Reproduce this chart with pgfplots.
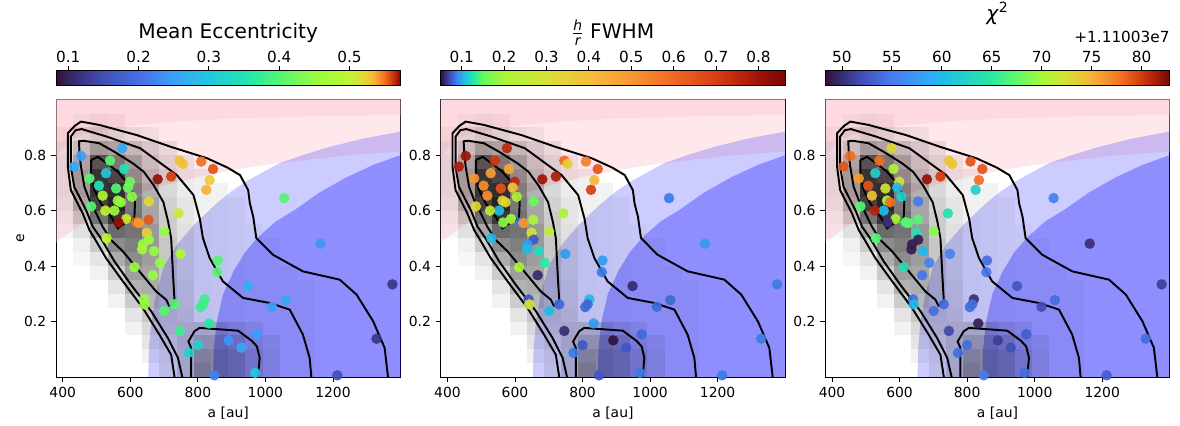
\documentclass[border=0pt]{standalone}
\usepackage{fontspec}
\setmainfont{DejaVu Sans}
\usepackage{pgfplots}
\pgfplotsset{compat=1.18}
\usepackage{pgfplotstable}

\definecolor{pinkc}{RGB}{255,192,203}

\pgfplotsset{
 colormap={ecc}{rgb255(0)=(48,18,59) rgb255(36)=(54,36,100) rgb255(137)=(65,80,180) rgb255(239)=(70,110,230) rgb255(341)=(58,160,250) rgb255(443)=(34,200,222) rgb255(545)=(30,228,180) rgb255(647)=(85,245,115) rgb255(749)=(150,252,65) rgb255(851)=(190,245,50) rgb255(892)=(228,218,55) rgb255(922)=(250,180,55) rgb255(953)=(245,112,30) rgb255(984)=(190,40,8) rgb255(1000)=(122,4,3)},
 colormap={fwhm}{rgb255(0)=(48,18,59) rgb255(24)=(65,70,180) rgb255(48)=(55,140,245) rgb255(73)=(30,200,220) rgb255(98)=(40,235,160) rgb255(122)=(100,250,90) rgb255(184)=(170,245,55) rgb255(307)=(215,225,55) rgb255(430)=(245,190,60) rgb255(553)=(250,150,50) rgb255(676)=(240,105,35) rgb255(800)=(215,60,20) rgb255(923)=(160,20,8) rgb255(1000)=(122,4,3)},
 colormap={chi}{rgb255(0)=(48,18,59) rgb255(100)=(66,75,180) rgb255(190)=(72,122,240) rgb255(300)=(50,170,250) rgb255(340)=(32,188,232) rgb255(480)=(40,232,165) rgb255(550)=(90,250,110) rgb255(630)=(170,248,55) rgb255(700)=(215,225,50) rgb255(770)=(245,180,55) rgb255(850)=(245,120,35) rgb255(920)=(210,55,15) rgb255(1000)=(122,4,3)},
}

% histogram cell: black rectangle whose opacity is the cell density
\pgfdeclareplotmark{cell}{%
  \pgfsetfillcolor{black}%
  \pgfsetfillopacity{\cellop}%
  \pgfpathrectangle{\pgfqpoint{-6.201pt}{-4.992pt}}{\pgfqpoint{12.402pt}{9.983pt}}%
  \pgfusepathqfill}
% scatter dot without outline
\pgfdeclareplotmark{dot}{%
  \pgfsetfillopacity{0.92}%
  \pgfpathcircle{\pgfpointorigin}{3.8pt}%
  \pgfusepathqfill}

% scatter points: a [au], e, mean eccentricity, h/r FWHM, chi^2 - 1.11003e7
\pgfplotstableread{
a e v1 v2 v3
454 0.797 0.25 0.80 78
434 0.759 0.26 0.78 79
576 0.825 0.26 0.75 73
540 0.780 0.40 0.72 78
582 0.750 0.35 0.45 70
528 0.735 0.30 0.48 62
479 0.716 0.40 0.50 76
507 0.690 0.35 0.52 79
599 0.704 0.42 0.75 72
558 0.680 0.40 0.65 72
518 0.654 0.48 0.52 74
593 0.683 0.42 0.38 60
605 0.650 0.44 0.22 62
563 0.636 0.45 0.33 70
572 0.630 0.45 0.33 78
553 0.600 0.46 0.105 60
526 0.600 0.50 0.25 81
484 0.615 0.40 0.32 67
588 0.570 0.51 0.20 70
565 0.557 0.57 0.18 50
617 0.558 0.55 0.085 67
625 0.555 0.54 0.50 67
654 0.567 0.555 0.20 67
655 0.633 0.52 0.15 55
649 0.520 0.525 0.30 64
655 0.495 0.46 0.075 49
681 0.713 0.57 0.80 82
721 0.723 0.56 0.78 80
746 0.780 0.53 0.60 74
756 0.768 0.53 0.35 74
810 0.777 0.55 0.55 79
845 0.750 0.555 0.65 79
835 0.710 0.525 0.42 78
825 0.675 0.535 0.70 62
743 0.590 0.51 0.20 64
701 0.525 0.45 0.25 69
530 0.500 0.50 0.105 67
637 0.478 0.45 0.095 49
635 0.460 0.47 0.105 49
670 0.454 0.45 0.12 60
749 0.444 0.48 0.095 55.5
688 0.412 0.45 0.13 55.5
612 0.396 0.45 0.20 64
667 0.367 0.45 0.06 54.5
859 0.420 0.40 0.095 54
857 0.378 0.40 0.085 54.5
948 0.328 0.27 0.06 52.5
1163 0.481 0.24 0.095 50
1376 0.334 0.12 0.085 51
640 0.280 0.45 0.075 54
642 0.262 0.45 0.30 60
701 0.238 0.40 0.105 54
731 0.262 0.40 0.08 54
820 0.280 0.38 0.105 50
815 0.262 0.38 0.08 54
808 0.252 0.38 0.08 54
1020 0.253 0.25 0.08 52
1060 0.277 0.26 0.08 54
833 0.193 0.36 0.095 49
746 0.166 0.38 0.06 51.5
975 0.154 0.25 0.08 53
891 0.132 0.24 0.05 51
929 0.106 0.26 0.075 52
800 0.115 0.32 0.075 54
773 0.087 0.32 0.085 54
1329 0.138 0.12 0.085 54
849 0.006 0.22 0.075 55
970 0.015 0.30 0.085 54
1213 0.006 0.15 0.085 53
1056 0.645 0.40 0.085 55.5
}\pts

% 2D histogram: bin centres and relative density (used as opacity)
\pgfplotstableread{
a e d
405.5 0.525 0.03
405.5 0.575 0.05
405.5 0.625 0.08
405.5 0.675 0.10
405.5 0.725 0.10
405.5 0.775 0.10
405.5 0.825 0.08
405.5 0.875 0.04
456.5 0.425 0.03
456.5 0.475 0.06
456.5 0.525 0.12
456.5 0.575 0.20
456.5 0.625 0.30
456.5 0.675 0.35
456.5 0.725 0.35
456.5 0.775 0.30
456.5 0.825 0.20
456.5 0.875 0.10
456.5 0.925 0.03
507.5 0.375 0.05
507.5 0.425 0.10
507.5 0.475 0.20
507.5 0.525 0.35
507.5 0.575 0.55
507.5 0.625 0.72
507.5 0.675 0.78
507.5 0.725 0.78
507.5 0.775 0.65
507.5 0.825 0.35
507.5 0.875 0.15
507.5 0.925 0.05
558.5 0.275 0.05
558.5 0.325 0.10
558.5 0.375 0.20
558.5 0.425 0.32
558.5 0.475 0.45
558.5 0.525 0.58
558.5 0.575 0.78
558.5 0.625 0.85
558.5 0.675 0.80
558.5 0.725 0.70
558.5 0.775 0.50
558.5 0.825 0.30
558.5 0.875 0.12
558.5 0.925 0.04
609.5 0.175 0.05
609.5 0.225 0.10
609.5 0.275 0.20
609.5 0.325 0.30
609.5 0.375 0.38
609.5 0.425 0.45
609.5 0.475 0.50
609.5 0.525 0.55
609.5 0.575 0.55
609.5 0.625 0.52
609.5 0.675 0.48
609.5 0.725 0.42
609.5 0.775 0.35
609.5 0.825 0.22
609.5 0.875 0.08
660.5 0.075 0.05
660.5 0.125 0.10
660.5 0.175 0.15
660.5 0.225 0.22
660.5 0.275 0.28
660.5 0.325 0.32
660.5 0.375 0.35
660.5 0.425 0.38
660.5 0.475 0.40
660.5 0.525 0.40
660.5 0.575 0.35
660.5 0.625 0.35
660.5 0.675 0.30
660.5 0.725 0.25
660.5 0.775 0.20
660.5 0.825 0.15
660.5 0.875 0.05
711.5 0.025 0.08
711.5 0.075 0.10
711.5 0.125 0.15
711.5 0.175 0.18
711.5 0.225 0.20
711.5 0.275 0.22
711.5 0.325 0.22
711.5 0.375 0.22
711.5 0.425 0.22
711.5 0.475 0.22
711.5 0.525 0.20
711.5 0.575 0.20
711.5 0.625 0.18
711.5 0.675 0.15
711.5 0.725 0.15
711.5 0.775 0.12
711.5 0.825 0.08
762.5 0.025 0.20
762.5 0.075 0.20
762.5 0.125 0.22
762.5 0.175 0.20
762.5 0.225 0.16
762.5 0.275 0.15
762.5 0.325 0.14
762.5 0.375 0.12
762.5 0.425 0.12
762.5 0.475 0.12
762.5 0.525 0.12
762.5 0.575 0.10
762.5 0.625 0.10
762.5 0.675 0.08
762.5 0.725 0.08
762.5 0.775 0.06
813.5 0.025 0.42
813.5 0.075 0.38
813.5 0.125 0.30
813.5 0.175 0.20
813.5 0.225 0.06
813.5 0.275 0.06
813.5 0.325 0.06
813.5 0.375 0.06
813.5 0.425 0.06
813.5 0.475 0.06
813.5 0.525 0.06
813.5 0.575 0.06
813.5 0.625 0.06
813.5 0.675 0.06
813.5 0.725 0.06
864.5 0.025 0.35
864.5 0.075 0.35
864.5 0.125 0.30
864.5 0.175 0.20
864.5 0.225 0.05
864.5 0.275 0.05
864.5 0.325 0.05
864.5 0.375 0.05
864.5 0.425 0.05
864.5 0.475 0.05
864.5 0.525 0.05
864.5 0.575 0.05
864.5 0.625 0.05
864.5 0.675 0.05
915.5 0.025 0.30
915.5 0.075 0.30
915.5 0.125 0.25
915.5 0.175 0.15
915.5 0.225 0.04
915.5 0.275 0.04
915.5 0.325 0.04
915.5 0.375 0.04
915.5 0.425 0.04
915.5 0.475 0.04
915.5 0.525 0.04
915.5 0.575 0.04
915.5 0.625 0.04
966.5 0.025 0.20
966.5 0.075 0.20
966.5 0.125 0.15
966.5 0.175 0.10
966.5 0.225 0.03
966.5 0.275 0.03
966.5 0.325 0.03
966.5 0.375 0.03
966.5 0.425 0.03
966.5 0.475 0.03
966.5 0.525 0.03
1017.5 0.025 0.12
1017.5 0.075 0.12
1017.5 0.125 0.10
1017.5 0.175 0.03
1017.5 0.225 0.03
1017.5 0.275 0.03
1017.5 0.325 0.03
1017.5 0.375 0.03
1017.5 0.425 0.03
1017.5 0.475 0.03
1068.5 0.025 0.03
1068.5 0.075 0.03
1068.5 0.125 0.03
1068.5 0.175 0.03
1068.5 0.225 0.03
1068.5 0.275 0.03
1068.5 0.325 0.03
1068.5 0.375 0.03
1119.5 0.025 0.03
1119.5 0.075 0.03
1119.5 0.125 0.03
1119.5 0.175 0.03
1119.5 0.225 0.03
1119.5 0.275 0.03
1119.5 0.325 0.03
}\hist

\newcommand{\commonlayers}{%
 % shaded regions
 \addplot[draw=none, fill=pinkc, fill opacity=0.365] coordinates {(370,0.475) (380,0.485) (430,0.53) (500,0.59) (600,0.65) (700,0.69) (800,0.72) (900,0.745) (1000,0.765) (1100,0.78) (1250,0.80) (1400,0.813) (1410,0.815) (1410,1.05) (370,1.05)};
 \addplot[draw=none, fill=pinkc, fill opacity=0.365] coordinates {(370,0.77) (380,0.79) (400,0.825) (431,0.86) (480,0.88) (550,0.897) (629,0.909) (750,0.922) (926,0.933) (1150,0.94) (1400,0.945) (1410,0.945) (1410,1.05) (370,1.05)};
 \addplot[draw=none, fill=blue, fill opacity=0.2] coordinates {(653,-0.05) (653,0) (654,0.05) (655,0.1) (662,0.2) (676,0.3) (700,0.4) (740,0.48) (790,0.55) (850,0.62) (900,0.67) (950,0.71) (1040,0.77) (1110,0.80) (1190,0.83) (1290,0.86) (1400,0.885) (1410,0.888) (1410,-0.05)};
 \addplot[draw=none, fill=blue, fill opacity=0.3] coordinates {(845,-0.05) (845,0) (846,0.05) (847,0.1) (856,0.2) (875,0.3) (905,0.38) (940,0.45) (975,0.5) (1030,0.56) (1090,0.605) (1160,0.665) (1240,0.72) (1320,0.765) (1400,0.80) (1410,0.805) (1410,-0.05)};
 % histogram
 \addplot[scatter, only marks, mark=cell, point meta=\thisrow{d},
   scatter/use mapped color={fill=black},
   visualization depends on={\thisrow{d} \as \cellop}]
   table[x=a, y=e] {\hist};
}

\newcommand{\contourlayers}{%
 \addplot[black, line width=1.4pt, mark=none] coordinates {(484,0.782) (504,0.794) (528,0.773) (563,0.740) (597,0.692) (614,0.632) (612,0.572) (583,0.554) (563,0.536) (543,0.578) (513,0.626) (494,0.674) (484,0.722) (484,0.782)};
 \addplot[black, line width=1.4pt, mark=none] coordinates {(716,0.255) (731,0.273) (726,0.38) (721,0.50) (712,0.56) (698,0.63) (670,0.69) (640,0.74) (607,0.771) (553,0.812) (508,0.843) (461,0.852) (448,0.85) (450,0.80) (454,0.758) (464,0.686) (479,0.638) (499,0.59) (518,0.542) (543,0.494) (578,0.453) (627,0.381) (676,0.309) (706,0.279) (716,0.255)};
 \addplot[black, line width=1.4pt, mark=none] coordinates {(754,0) (741,0.069) (711,0.141) (662,0.237) (602,0.333) (553,0.417) (513,0.50) (489,0.542) (469,0.602) (449,0.65) (434,0.686) (424,0.758) (424,0.867) (438,0.89) (456,0.894) (530,0.867) (629,0.825) (738,0.728) (787,0.656) (806,0.57) (815,0.501) (835,0.429) (874,0.345) (934,0.285) (1012,0.267) (1072,0.243) (1111,0.153) (1131,0.069) (1136,0)};
 \addplot[black, line width=1.4pt, mark=none] coordinates {(731,0) (721,0.08) (686,0.153) (637,0.249) (578,0.345) (528,0.429) (494,0.50) (479,0.53) (459,0.59) (439,0.638) (424,0.674) (415,0.758) (415,0.879) (435,0.905) (454,0.921) (508,0.909) (620,0.872) (720,0.83) (827,0.789) (888,0.755) (925,0.728) (949,0.674) (954,0.626) (964,0.578) (973,0.501) (1022,0.441) (1111,0.381) (1220,0.351) (1270,0.297) (1319,0.201) (1353,0.105) (1363,0)};
 \addplot[black, line width=1.4pt, mark=none] coordinates {(780,0) (780,0.105) (772,0.128) (790,0.165) (805,0.177) (919,0.167) (960,0.13) (975,0.11) (983,0.069) (978,0)};
}

\pgfplotsset{
 panel/.style={
  scale only axis, width=248.04pt, height=199.66pt, anchor=south west,
  xmin=380, xmax=1400, ymin=0, ymax=1,
  xtick={400,600,800,1000,1200}, ytick={0.2,0.4,0.6,0.8},
  xtick pos=left, ytick pos=left,
  tick align=outside, major tick length=3.5pt,
  tick style={black, line width=0.6pt},
  axis line style={line width=0.6pt},
  tick label style={font=\fontsize{10}{12}\selectfont},
  label style={font=\fontsize{10}{12}\selectfont},
  /pgf/number format/assume math mode=true,
  /pgf/number format/1000 sep={},
  yticklabel style={/pgf/number format/fixed, /pgf/number format/precision=1},
  xlabel={a [au]},
  colorbar horizontal,
  colorbar shift/.style={yshift=10.6pt},
  colorbar style={
    at={(parent axis.north west)}, anchor=south west,
    scale only axis, width=248.04pt, height=10.3pt,
    xtick pos=right, xticklabel pos=right,
    xticklabel shift=-1.5pt,
    tick align=outside, major tick length=3.5pt,
    tick style={black, line width=0.6pt},
    axis line style={line width=0.6pt},
    ytick=\empty,
    tick label style={font=\fontsize{11}{13}\selectfont},
    /pgf/number format/assume math mode=true,
    every axis title shift=0pt,
    every axis title/.style={at={(0.5,1)}, anchor=base, yshift=23pt, font=\fontsize{14.5}{17}\selectfont},
  },
 }
}

\begin{document}
\begin{tikzpicture}[font=\fontsize{10}{12}\selectfont]
\useasboundingbox (0,0) rectangle (849.6pt,306.72pt);

\begin{axis}[panel, at={(40.32pt,35.28pt)}, ylabel={e}, ylabel shift=-7pt,
  colormap name=ecc, point meta min=0.0825, point meta max=0.5726,
  colorbar style={xtick={0.1,0.2,0.3,0.4,0.5}, title={Mean Eccentricity}}]
 \commonlayers
 \addplot[scatter, only marks, mark=dot, point meta=\thisrow{v1},
   scatter/use mapped color={fill=mapped color}]
   table[x=a, y=e] {\pts};
 \contourlayers
\end{axis}

\begin{axis}[panel, at={(317.3pt,35.28pt)},
  colormap name=fwhm, point meta min=0.0505, point meta max=0.863,
  colorbar style={xtick={0.1,0.2,0.3,0.4,0.5,0.6,0.7,0.8},
   title={$\frac{\mbox{\fontsize{10}{10}\selectfont\itshape h}}{\mbox{\fontsize{10}{10}\selectfont\itshape r}}$ FWHM}}]
 \commonlayers
 \addplot[scatter, only marks, mark=dot, point meta=\thisrow{v2},
   scatter/use mapped color={fill=mapped color}]
   table[x=a, y=e] {\pts};
 \contourlayers
\end{axis}

\begin{axis}[panel, at={(594.2pt,35.28pt)},
  colormap name=chi, point meta min=48.33, point meta max=82.83,
  colorbar style={xtick={50,55,60,65,70,75,80},
   every axis title/.append style={yshift=13.4pt},
   title={\textit{χ}\textsuperscript{2}},
   extra description/.code={\node[anchor=base east, inner sep=0pt, yshift=20.5pt, font=\fontsize{11}{13}\selectfont] at (rel axis cs:1,1) {+1.11003e7};}}]
 \commonlayers
 \addplot[scatter, only marks, mark=dot, point meta=\thisrow{v3},
   scatter/use mapped color={fill=mapped color}]
   table[x=a, y=e] {\pts};
 \contourlayers
\end{axis}
\end{tikzpicture}
\end{document}
